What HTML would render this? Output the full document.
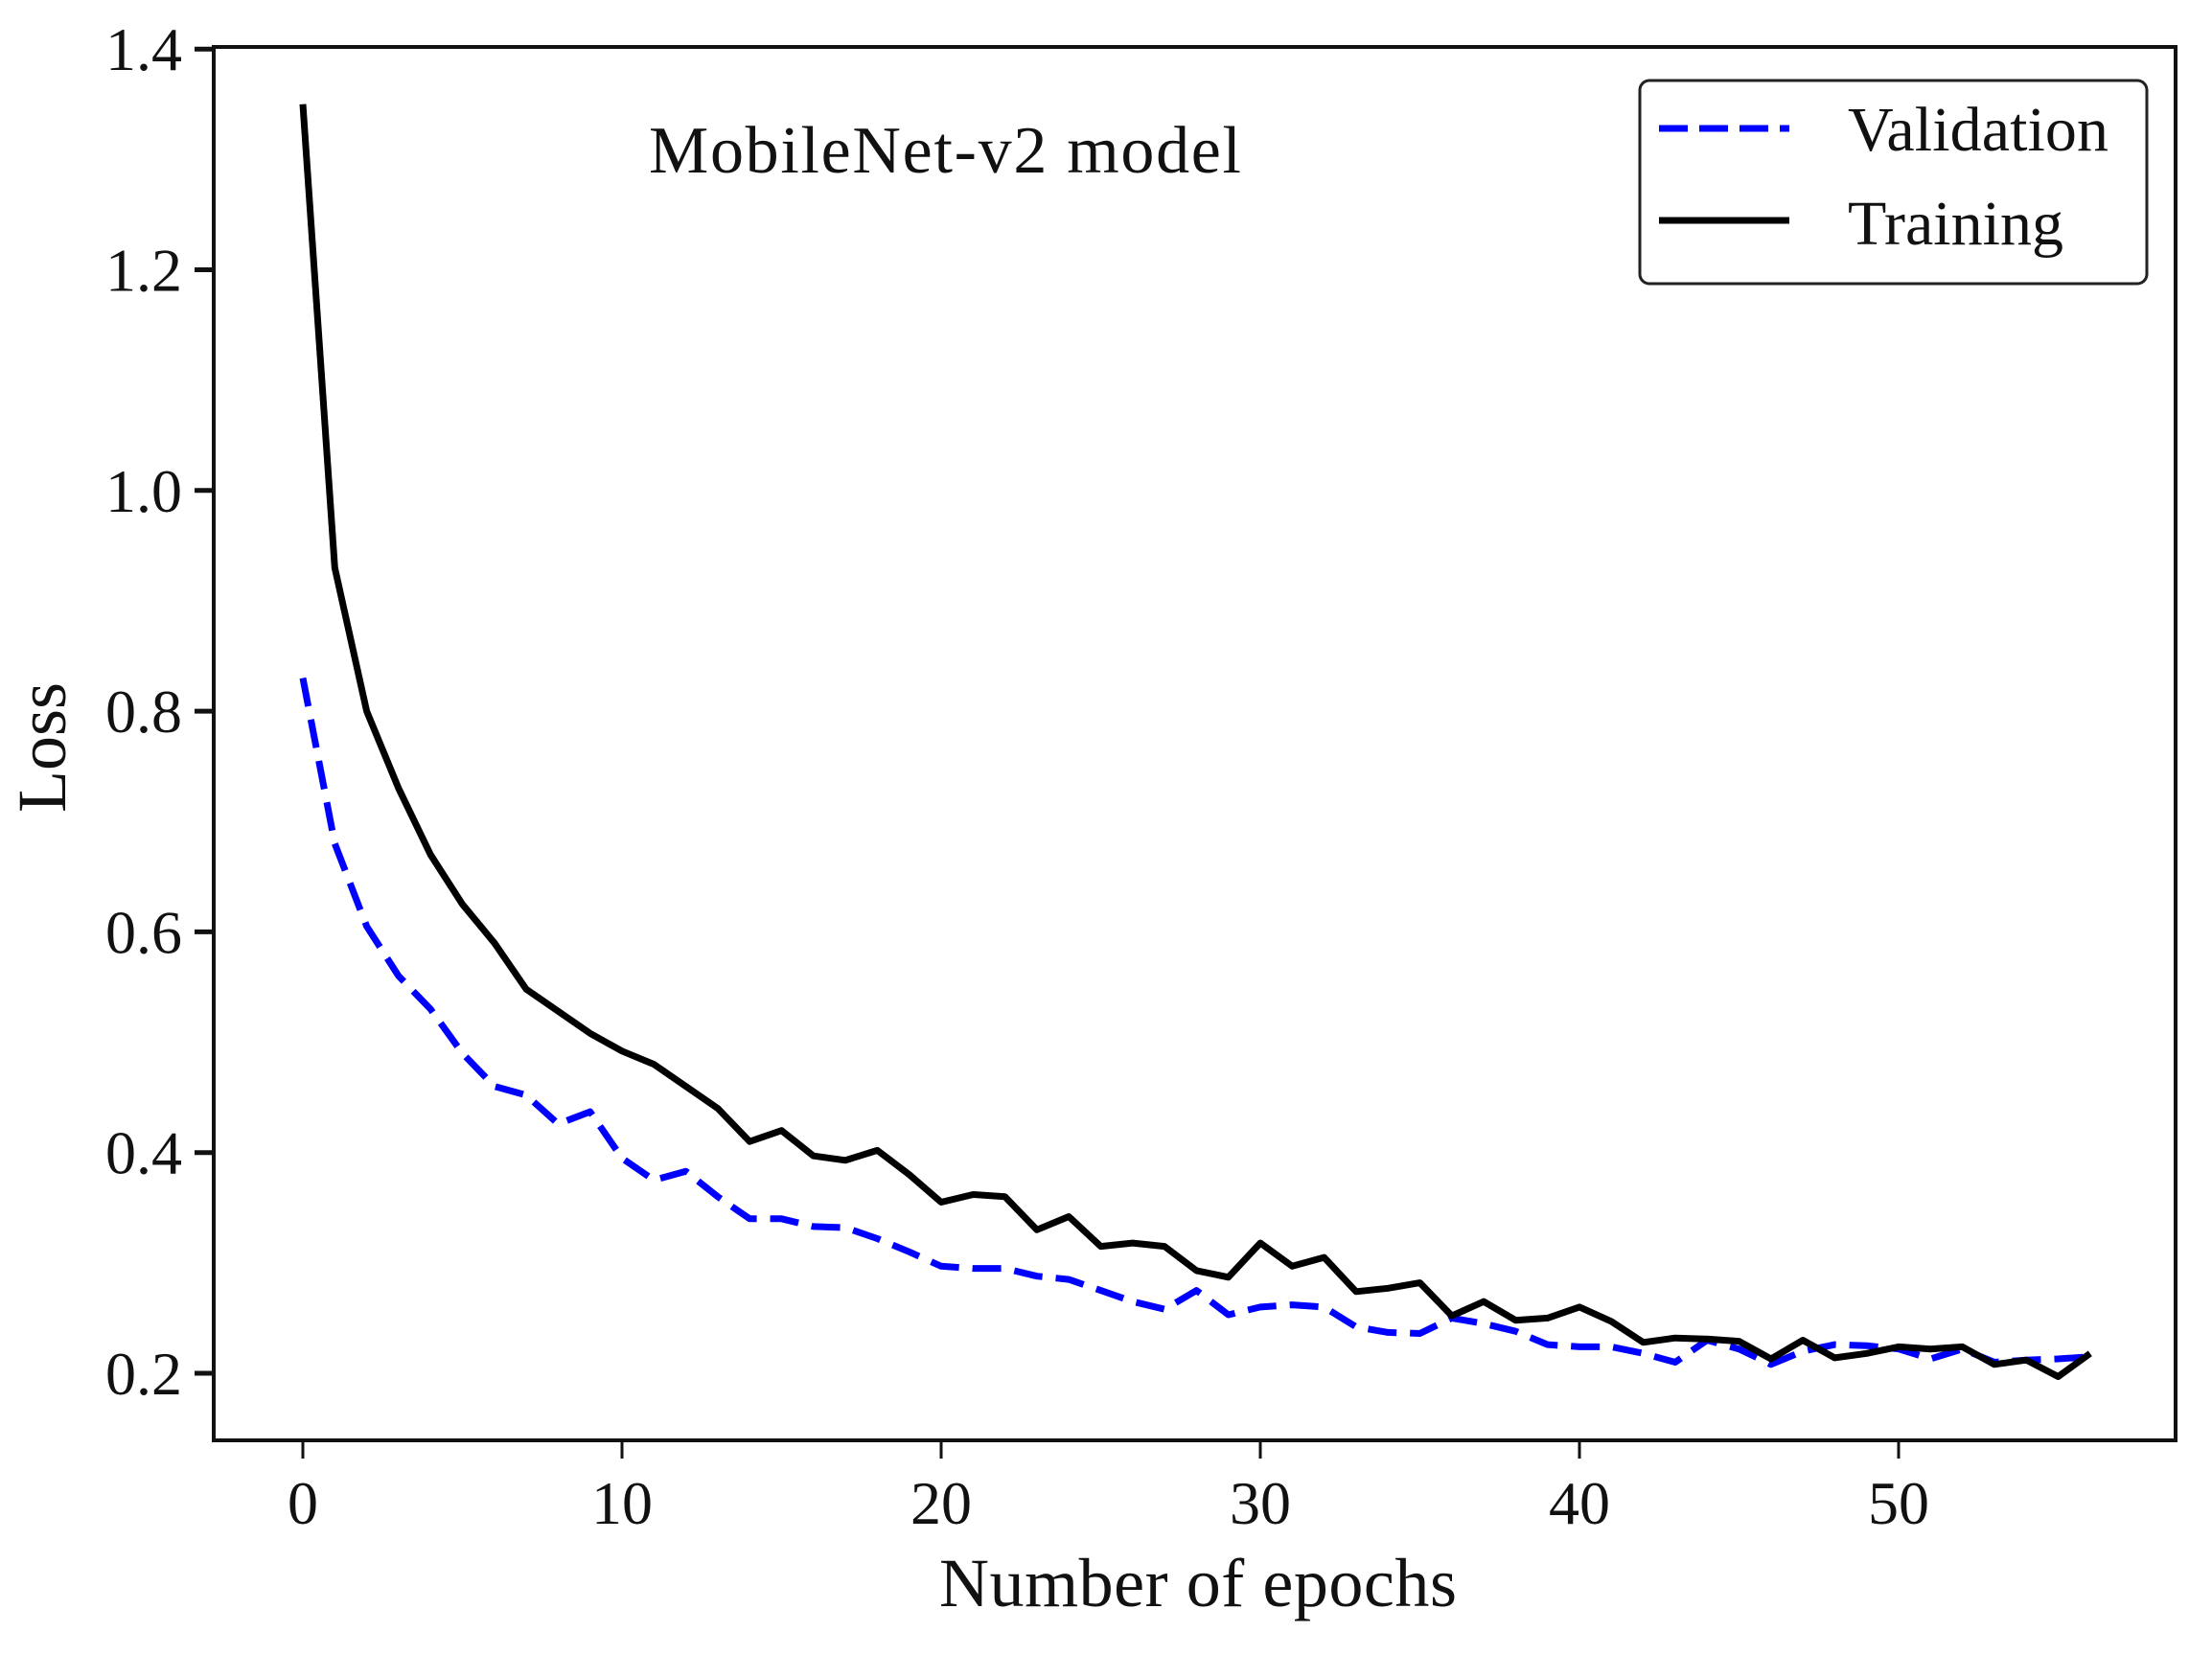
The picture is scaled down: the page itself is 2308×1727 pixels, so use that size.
<!DOCTYPE html>
<html><head><meta charset="utf-8"><style>
html,body{margin:0;padding:0;background:#fff}
svg{display:block}
text{font-family:"Liberation Serif",serif;fill:#111}
</style></head><body>
<svg id="chart" width="2308" height="1727" viewBox="0 0 2308 1727">
<rect x="0" y="0" width="2308" height="1727" fill="#fff"/>
<g id="ticks"></g>
<g id="series"></g>
<rect x="223" y="49" width="2047" height="1454" fill="none" stroke="#111" stroke-width="4"/>
<text x="986" y="180" font-size="70" text-anchor="middle" textLength="618">MobileNet-v2 model</text>
<text x="1250" y="1676" font-size="72" text-anchor="middle" textLength="540">Number of epochs</text>
<text transform="translate(68,780) rotate(-90)" font-size="72" text-anchor="middle">Loss</text>
<g>
<rect x="1711" y="84" width="529" height="212" rx="10" fill="#fff" stroke="#222" stroke-width="3"/>
<line x1="1731" y1="134" x2="1867" y2="134" stroke="#0000ff" stroke-width="7" stroke-dasharray="30 12"/>
<text x="1928" y="157" font-size="66" textLength="272">Validation</text>
<line x1="1731" y1="230" x2="1867" y2="230" stroke="#000" stroke-width="7"/>
<text x="1928" y="255" font-size="66">Training</text>
</g>
</svg>
<script>
const xTicks = [0, 10, 20, 30, 40, 50];
const yTicks = [0.2, 0.4, 0.6, 0.8, 1.0, 1.2, 1.4];
const yTickLabels = ["0.2", "0.4", "0.6", "0.8", "1.0", "1.2", "1.4"];
const training = [1.35,0.93,0.80,0.73,0.67,0.625,0.59,0.548,0.528,0.508,0.492,0.48,0.46,0.44,0.41,0.42,0.397,0.393,0.402,0.38,0.355,0.362,0.36,0.33,0.342,0.315,0.318,0.315,0.293,0.287,0.318,0.297,0.305,0.274,0.277,0.282,0.252,0.265,0.248,0.25,0.26,0.247,0.228,0.232,0.231,0.229,0.213,0.23,0.214,0.218,0.224,0.222,0.224,0.208,0.212,0.197,0.218];
const validation = [0.83,0.68,0.605,0.56,0.53,0.49,0.46,0.452,0.426,0.437,0.395,0.375,0.383,0.36,0.34,0.34,0.333,0.332,0.322,0.31,0.297,0.295,0.295,0.288,0.285,0.275,0.265,0.258,0.275,0.253,0.26,0.262,0.26,0.242,0.237,0.236,0.25,0.245,0.238,0.226,0.224,0.224,0.218,0.21,0.23,0.222,0.208,0.22,0.226,0.225,0.222,0.213,0.222,0.21,0.212,0.213,0.215];

const NS = "http://www.w3.org/2000/svg";
function xs(e){ return 316 + e * 33.3; }
function ys(v){ return 1433 - (v - 0.2) * 1151.5; }

const tg = document.getElementById('ticks');
xTicks.forEach(t => {
  const l = document.createElementNS(NS,'line');
  l.setAttribute('x1', xs(t)); l.setAttribute('x2', xs(t));
  l.setAttribute('y1', 1503); l.setAttribute('y2', 1522);
  l.setAttribute('stroke','#111'); l.setAttribute('stroke-width','3');
  
  
  tg.appendChild(l);
  const tx = document.createElementNS(NS,'text');
  tx.setAttribute('x', xs(t)); tx.setAttribute('y', 1590);
  tx.setAttribute('font-size','64'); tx.setAttribute('text-anchor','middle');
  tx.textContent = String(t);
  
  
  tg.appendChild(tx);
});
yTicks.forEach((t,i) => {
  const l = document.createElementNS(NS,'line');
  l.setAttribute('x1', 203); l.setAttribute('x2', 223);
  l.setAttribute('y1', ys(t)); l.setAttribute('y2', ys(t));
  l.setAttribute('stroke','#111'); l.setAttribute('stroke-width','5');
  
  
  tg.appendChild(l);
  const tx = document.createElementNS(NS,'text');
  tx.setAttribute('x', 190); tx.setAttribute('y', ys(t) + 22);
  tx.setAttribute('font-size','64'); tx.setAttribute('text-anchor','end');
  tx.textContent = yTickLabels[i];
  
  
  tg.appendChild(tx);
});

const sg = document.getElementById('series');
function addLine(vals, color, dash, name){
  const p = document.createElementNS(NS,'polyline');
  p.setAttribute('points', vals.map((v,i)=> xs(i).toFixed(1)+','+ys(v).toFixed(1)).join(' '));
  p.setAttribute('fill','none'); p.setAttribute('stroke',color);
  p.setAttribute('stroke-width','7'); p.setAttribute('stroke-linejoin','round');
  if (dash) p.setAttribute('stroke-dasharray', dash);
  
  
  sg.appendChild(p);
}
addLine(validation, '#0000ff', '30 14', 'validation-line');
addLine(training, '#000', null, 'training-line');
</script>
</body></html>
